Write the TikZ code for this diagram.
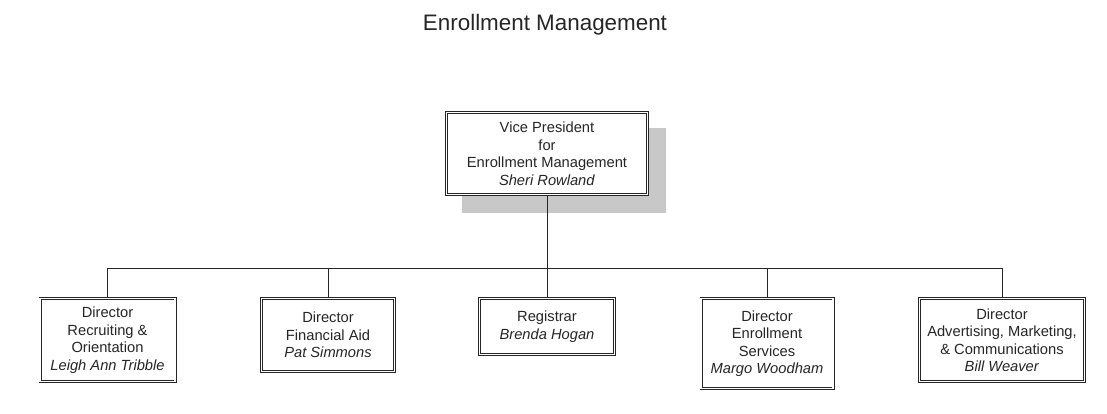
\documentclass[tikz,border=0pt]{standalone}
\usepackage{fontspec}
\setmainfont{Liberation Sans}
\definecolor{shadowgray}{HTML}{C8C8C8}
\definecolor{ink}{HTML}{262626}
\tikzset{
  orgbox/.style={draw=ink, line width=0.8pt, double=white, double distance=1.4pt,
    fill=white, align=center, text=ink, inner sep=0pt,
    font=\fontsize{14.7}{17.5}\selectfont},
  link/.style={draw=ink, line width=0.9pt}
}
\begin{document}
\begin{tikzpicture}[x=1pt,y=-1pt]
\useasboundingbox (0,0) rectangle (1107,414);
\node[anchor=base, text=ink, font=\fontsize{22.4}{26}\selectfont] (title) at (545,31) {Enrollment Management};
\fill[shadowgray] (462,128) rectangle (666,213);
\node[orgbox, minimum width=201pt, minimum height=82pt] (vp) at (547,153.5)
  {Vice President\\for\\Enrollment Management\\\textit{Sheri Rowland}};
\node[orgbox, minimum width=135pt, minimum height=83pt] (b1) at (107.5,340)
  {Director\\Recruiting \&\\Orientation\\\textit{Leigh Ann Tribble}};
\node[orgbox, minimum width=133pt, minimum height=73pt] (b2) at (328,335)
  {Director\\Financial Aid\\\textit{Pat Simmons}};
\node[orgbox, minimum width=135pt, minimum height=56pt] (b3) at (547,326.5)
  {Registrar\\\textit{Brenda Hogan}};
\node[orgbox, minimum width=132pt, minimum height=90pt] (b4) at (767,343.5)
  {Director\\Enrollment\\Services\\\textit{Margo Woodham}};
\node[orgbox, minimum width=165pt, minimum height=83pt] (b5) at (1002,340)
  {Director\\Advertising, Marketing,\\\& Communications\\\textit{Bill Weaver}};
\coordinate (bus) at (547,268);
\draw[link] (vp.south) -- (bus);
\foreach \b in {b1,b2,b3,b4,b5} \draw[link] (\b.north) |- (bus);
\end{tikzpicture}
\end{document}
